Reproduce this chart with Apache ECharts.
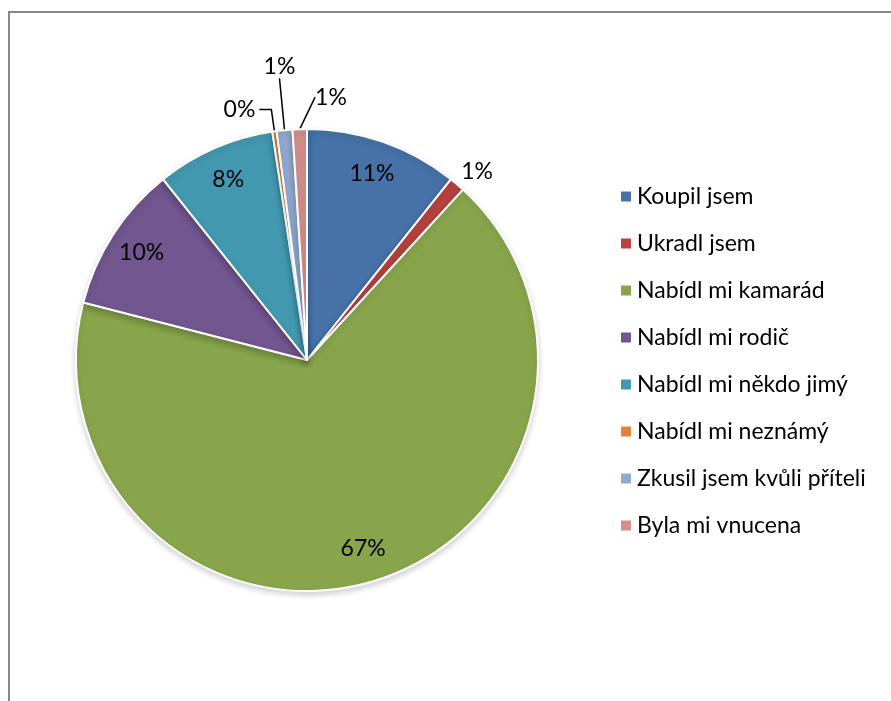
<!DOCTYPE html>
<html>
<head>
<meta charset="utf-8">
<script src="https://cdn.jsdelivr.net/npm/echarts@6/dist/echarts.min.js"></script>
<style>
  html, body { margin: 0; padding: 0; background: #fff; }
  #frame {
    position: absolute; left: 8px; top: 11px; width: 883px; height: 690px;
    border-top: 2px solid #888; border-left: 2px solid #888; box-sizing: border-box;
  }
  #chart { position: absolute; left: 0; top: 0; width: 891px; height: 701px; }
</style>
</head>
<body>
<div id="frame"></div>
<div id="chart"></div>
<script>
// how respondents got it (share of answers, %)
const categories = [
  'Koupil jsem',
  'Ukradl jsem',
  'Nabídl mi kamarád',
  'Nabídl mi rodič',
  'Nabídl mi někdo jimý',
  'Nabídl mi neznámý',
  'Zkusil jsem kvůli příteli',
  'Byla mi vnucena'
]
const shares = [10.7, 1.1, 67.2, 10.3, 8.3, 0.3, 1.1, 1.0]
const colors = ['#4672a8', '#b8423f', '#88a54b', '#71568f', '#4298af', '#e0843a', '#91a8cf', '#d48e8c']

const font = 'Lato, "Open Sans", sans-serif'
const center = [307, 360]
const radius = 231

// leader line settings for the thin slices (index -> [length, length2, showLine])
const thinLabel = {
  1: [5, 0, false],
  5: [22, 12, true],
  6: [52, 0, true],
  7: [28, 0, true]
}

const pieData = categories.map((name, i) => ({ name, value: shares[i] }))

const labelData = categories.map((name, i) => {
  const thin = thinLabel[i]
  if (!thin) return { name, value: shares[i] }
  return {
    name,
    value: shares[i],
    label: { position: 'outside', distanceToLabelLine: i === 6 ? 0 : 4 },
    labelLine: { show: thin[2], length: thin[0], length2: thin[1] }
  }
})

const chart = echarts.init(document.getElementById('chart'), null, { renderer: 'canvas' })

chart.setOption({
  animation: false,
  backgroundColor: 'transparent',
  color: colors,
  legend: {
    orient: 'vertical',
    left: 614,
    top: 180,
    icon: 'rect',
    itemWidth: 12,
    itemHeight: 12,
    itemGap: 24,
    data: categories,
    textStyle: { color: '#000', fontFamily: font, fontSize: 23 }
  },
  series: [
    {
      type: 'pie',
      center,
      radius,
      startAngle: 90,
      clockwise: true,
      avoidLabelOverlap: false,
      data: pieData,
      label: { show: false },
      labelLine: { show: false },
      itemStyle: {
        borderColor: '#fff',
        borderWidth: 2,
        shadowColor: 'rgba(0,0,0,0.18)',
        shadowBlur: 6,
        shadowOffsetY: 3
      }
    },
    {
      // transparent ring that only places the percentage labels
      type: 'pie',
      center,
      radius: [157, radius],
      startAngle: 90,
      clockwise: true,
      silent: true,
      legendHoverLink: false,
      avoidLabelOverlap: false,
      data: labelData,
      itemStyle: { color: 'transparent' },
      label: {
        show: true,
        position: 'inside',
        color: '#000',
        fontFamily: font,
        fontSize: 23,
        formatter: (p) => Math.round(p.percent) + '%'
      },
      labelLine: { lineStyle: { color: '#000', width: 1.5 } },
      labelLayout: (params) => {
        if (params.dataIndex === 1) return { x: params.labelRect.x - 3, y: params.labelRect.y - 9, align: 'left', verticalAlign: 'top' }
        if (params.dataIndex === 6) return { align: 'center', verticalAlign: 'bottom' }
        if (params.dataIndex === 7) return { x: params.labelRect.x + 52, y: params.labelRect.y - 4, align: 'left', verticalAlign: 'top' }
        return {}
      }
    }
  ]
})
</script>
</body>
</html>
